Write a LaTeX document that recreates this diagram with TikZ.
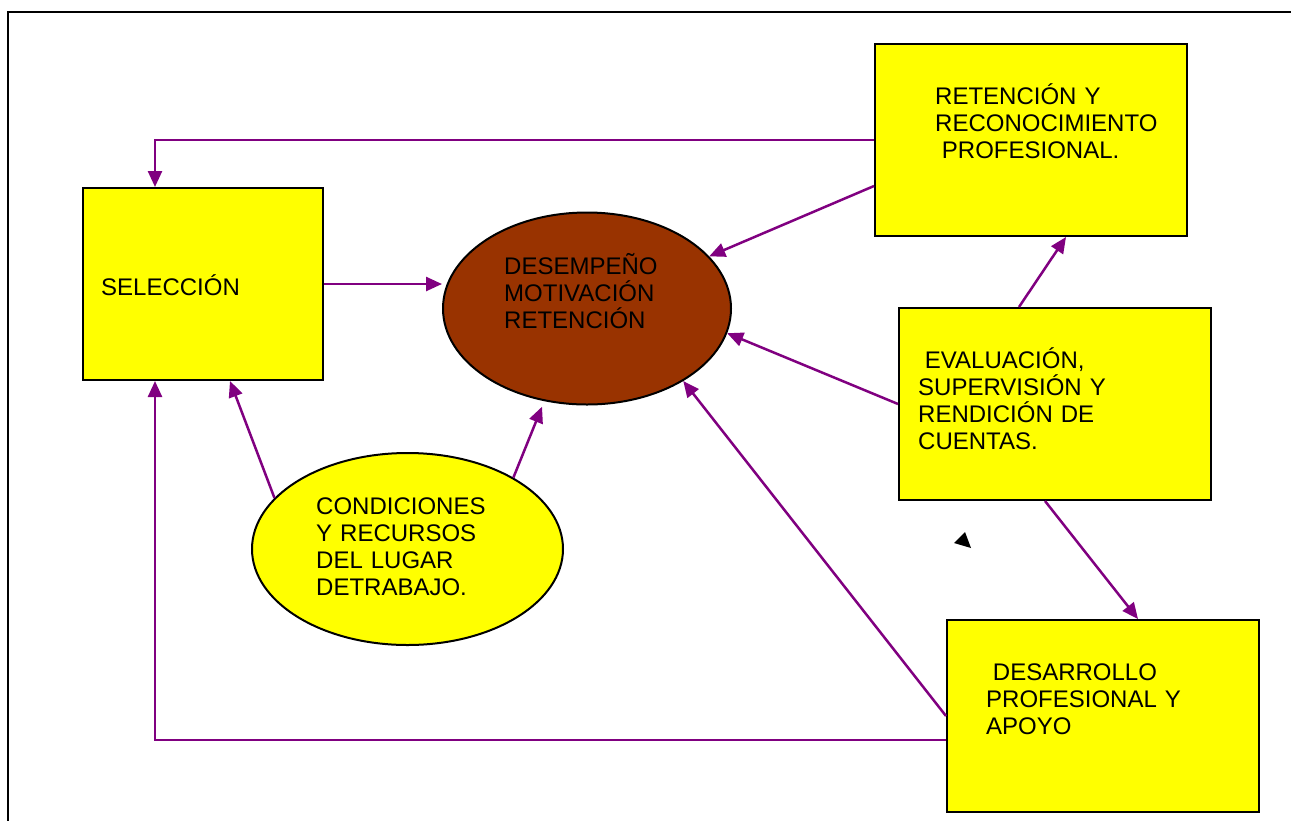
\documentclass[tikz,border=0pt]{standalone}
\usepackage{fontspec}
\setmainfont{Liberation Sans}
\usetikzlibrary{arrows.meta,shapes.geometric}
\definecolor{RYellow}{HTML}{FFFF00}
\definecolor{RBrown}{HTML}{993300}
\definecolor{RPurple}{HTML}{800080}

\begin{document}
\begin{tikzpicture}[
  x=1pt,y=-1pt,
  every node/.style={font=\fontsize{24}{27.3}\selectfont},
  box/.style={draw=black,line width=2pt,fill=RYellow,
    minimum width=312pt,minimum height=192pt,inner sep=0pt},
  core/.style={ellipse,draw=black,line width=2pt,fill=RBrown,
    minimum width=288pt,minimum height=192pt,inner sep=0pt},
  cond/.style={ellipse,draw=black,line width=2pt,fill=RYellow,
    minimum width=311pt,minimum height=192pt,inner sep=0pt},
  txt/.style={anchor=base west,inner sep=0pt,text width=250pt,align=left},
  arr/.style={-{Triangle[length=16pt,width=14pt]},line width=2.5pt,color=RPurple}
]
  \useasboundingbox (0,0) rectangle (1291,820);
  \draw[line width=2pt] (8,830) -- (8,12) -- (1300,12);

  \node[box,minimum width=240pt] (sel) at (203,284) {};
  \node[core] (des) at (587,308.5) {};
  \node[cond] (con) at (407.5,549) {};
  \node[box] (ret) at (1031,140) {};
  \node[box] (eva) at (1055,404) {};
  \node[box] (dev) at (1103,716) {};

  \node[txt] (sel-txt) at (101,295) {SELECCIÓN};
  \node[txt] (des-txt) at (504,274) {DESEMPEÑO\\MOTIVACIÓN\\RETENCIÓN};
  \node[txt] (con-txt) at (316,514)
    {CONDICIONES\\Y RECURSOS\\DEL LUGAR\\DETRABAJO.};
  \node[txt] (ret-txt) at (935,104)
    {RETENCIÓN Y\\RECONOCIMIENTO\\\hspace*{.28em}PROFESIONAL.};
  \node[txt] (eva-txt) at (918,368)
    {\hspace*{.28em}EVALUACIÓN,\\SUPERVISIÓN Y\\RENDICIÓN DE\\CUENTAS.};
  \node[txt] (dev-txt) at (986,680)
    {\hspace*{.28em}DESARROLLO\\PROFESIONAL Y\\APOYO};

  \draw[arr] (ret.west) -| ([xshift=-48pt]sel.north);
  \draw[arr] ([yshift=-46pt]ret.west) -- (des);
  \draw[arr] (sel.east) -- (sel.east -| des.west);
  \draw[arr] ([xshift=-36pt]eva.north) -- ([xshift=35pt]ret.south);
  \draw[arr] (eva.west) -- (des.-10);
  \draw[arr] ([xshift=-10pt]eva.south) -- ([xshift=35pt]dev.north);
  \draw[arr] (dev.west) -- (des.-37);
  \draw[arr] ([yshift=-24pt]dev.west) -| ([xshift=-48pt]sel.south);
  \draw[arr] (con.159) -- ([xshift=27pt]sel.south);
  \draw[arr] (con.34) -- ([yshift=-6pt]des.-116);

  \fill (954,543) -- (965,532) -- (971,548) -- cycle;
\end{tikzpicture}
\end{document}
